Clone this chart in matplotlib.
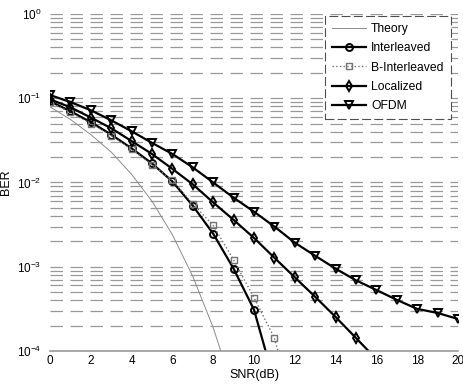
import matplotlib
matplotlib.use("Agg")
import matplotlib.pyplot as plt
import numpy as np

plt.rcParams['font.family'] = ['Liberation Sans', 'DejaVu Sans']

# SNR axis (dB)
snr = list(range(0, 21))
snr_theory = list(range(0, 10))

# values
ber_theory = [0.079, 0.056, 0.037, 0.023, 0.0125, 0.006, 0.0024, 0.00077,
              0.00019, 0.000034]
ber_interleaved = [0.092, 0.070, 0.052, 0.037, 0.0254, 0.0168, 0.0103, 0.0053,
                   0.00247, 0.00095, 0.00031, 0.000043]
ber_binterleaved = [0.090, 0.068, 0.050, 0.036, 0.0248, 0.0163, 0.0106, 0.0056,
                    0.0031, 0.00121, 0.00043, 0.000143, 0.000018]
ber_localized = [0.097, 0.078, 0.059, 0.044, 0.031, 0.0218, 0.0145, 0.0095,
                 0.0058, 0.0036, 0.0022, 0.00128, 0.00075, 0.00044, 0.000254,
                 0.000143, 0.00008]
ber_ofdm = [0.109, 0.090, 0.072, 0.0547, 0.0405, 0.0295, 0.0218, 0.0151, 0.0100,
            0.0066, 0.0045, 0.0030, 0.00193, 0.00135, 0.00095, 0.00069,
            0.00053, 0.000405, 0.000316, 0.000283, 0.00024]

fig = plt.figure(figsize=(4.63, 3.87), dpi=100)
ax = fig.add_axes([0.108, 0.093, 0.881, 0.871])

ax.semilogy(snr_theory, ber_theory, '-', color='0.55', lw=0.7, label='Theory')
ax.semilogy(snr[:len(ber_interleaved)], ber_interleaved, '-o', color='black',
            lw=1.6, ms=5, mfc='none', mew=1.4, label='Interleaved')
ax.semilogy(snr[:len(ber_binterleaved)], ber_binterleaved, ':s', color='0.45',
            lw=1.0, ms=5, mfc='none', mew=1.0, label='B-Interleaved')
ax.semilogy(snr[:len(ber_localized)], ber_localized, '-d', color='black',
            lw=1.6, ms=5, mfc='none', mew=1.4, label='Localized')
ax.semilogy(snr, ber_ofdm, '-v', color='black', lw=1.6, ms=6, mfc='none',
            mew=1.4, label='OFDM')

ax.set_xlim(0, 20)
ax.set_ylim(1e-4, 1)
ax.set_xticks(range(0, 21, 2))

# dashed horizontal grid, major and minor
ax.grid(True, which='both', axis='y', linestyle=(0, (10, 6)), color='0.6', lw=0.9)
for s in ['top', 'left', 'right']:
    ax.spines[s].set_visible(False)
ax.spines['bottom'].set_color('0.6')
ax.spines['bottom'].set_linewidth(1.2)
ax.tick_params(which='both', length=0, labelsize=8.5, pad=3)
ax.tick_params(axis='y', pad=6)

ax.set_xlabel('SNR(dB)', fontsize=9, labelpad=1)
ax.set_ylabel('BER', fontsize=9, labelpad=4)

leg = ax.legend(loc='upper right', bbox_to_anchor=(0.997, 1.012), fontsize=8.7,
                handlelength=2.8, handletextpad=0.4, borderpad=0.6,
                labelspacing=0.6, fancybox=False, framealpha=1, edgecolor='0.3')
leg.get_frame().set_linestyle((0, (8, 3)))
leg.get_frame().set_linewidth(0.8)

fig.savefig('out.png', dpi=100)
